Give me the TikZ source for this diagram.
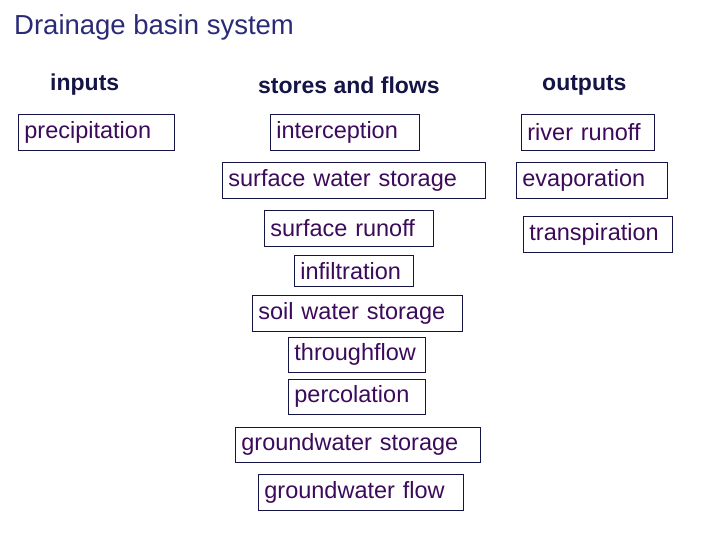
\documentclass[tikz,border=0pt]{standalone}
\usepackage{fontspec}
\setmainfont{Liberation Sans}
\definecolor{hdc}{HTML}{141446}
\definecolor{txc}{HTML}{3C0A5A}
\definecolor{ttc}{HTML}{2A2A78}
\begin{document}
\begin{tikzpicture}[x=1pt,y=-1pt,
  bx/.style={draw=hdc,line width=0.8pt,anchor=north west,inner xsep=6pt,inner ysep=0pt,align=left,text=txc,font=\fontsize{23.5}{25}\selectfont},
  hd/.style={anchor=west,text=hdc,font=\bfseries\fontsize{23}{25}\selectfont}]
\useasboundingbox (0,0) rectangle (720,540);
\node[anchor=west,text=ttc,font=\fontsize{27.5}{30}\selectfont,inner sep=0pt] (title) at (14,27) {Drainage basin system};
\node[hd,inner sep=0pt] (hin) at (50,85) {inputs};
\node[hd,inner sep=0pt] (hst) at (258,85) {stores and flows};
\node[hd,inner sep=0pt] (hout) at (542,85) {outputs};
\newcommand{\bxn}[6]{\node[bx,text width=#4-#2-12pt,minimum height=#5-#3] (#1) at (#2,#3) {#6};}
\bxn{prec}{18}{114}{174}{150}{precipitation}
\bxn{inter}{270}{114}{419}{150}{interception}
\bxn{sws}{222}{162}{485}{198}{surface water storage}
\bxn{sro}{264}{210}{433}{246}{surface runoff}
\bxn{inf}{294}{255}{413}{286}{infiltration}
\bxn{soil}{252}{295}{462}{331}{soil water storage}
\bxn{thr}{288}{337}{425}{372}{throughflow}
\bxn{perc}{288}{379}{425}{414}{percolation}
\bxn{gws}{235}{427}{480}{462}{groundwater storage}
\bxn{gwf}{258}{474}{463}{510}{groundwater flow}
\bxn{rro}{521}{114}{654}{150}{river runoff}
\bxn{evap}{516}{162}{667}{198}{evaporation}
\bxn{trans}{523}{216}{672}{252}{transpiration}
\end{tikzpicture}
\end{document}
